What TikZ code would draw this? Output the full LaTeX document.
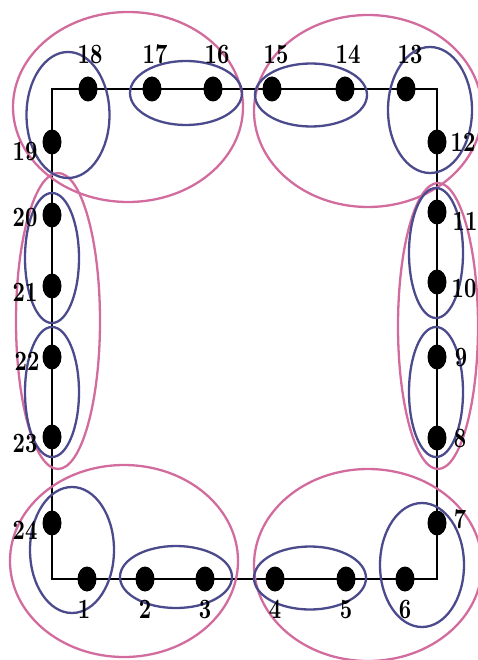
\documentclass[tikz,border=0pt]{standalone}
\usetikzlibrary{shapes.geometric}
\usepackage{graphicx}
\definecolor{grpblue}{HTML}{4B4A8C}
\definecolor{grppink}{HTML}{D36C9E}
\font\lblfont=cmbx10 at 21.5pt
\newcommand\lbtxt[1]{\scalebox{1}[1.3]{#1}}
\begin{document}
\begin{tikzpicture}[x=1pt,y=-1pt,
  dot/.style={ellipse,fill=black,minimum width=19pt,minimum height=25pt,inner sep=0pt},
  lbl/.style={font=\lblfont,inner sep=0pt},
  bluegrp/.style={draw=grpblue,line width=2.3pt},
  pinkgrp/.style={draw=grppink,line width=2.3pt}]
\useasboundingbox (0,0) rectangle (477,660);
% frame
\coordinate (c1) at (52,89);
\coordinate (c2) at (437,89);
\coordinate (c3) at (437,579);
\coordinate (c4) at (52,579);
\draw[line width=2.5pt] (c1) -- (c2) -- (c3) -- (c4) -- cycle;
% pink groups
\draw[pinkgrp] (128,107) ellipse [x radius=115, y radius=95];
\draw[pinkgrp] (368,111) ellipse [x radius=114, y radius=96];
\draw[pinkgrp] (58,321) ellipse [x radius=42, y radius=148];
\draw[pinkgrp] (438,326) ellipse [x radius=40, y radius=143];
\draw[pinkgrp] (124,561) ellipse [x radius=114, y radius=96];
\draw[pinkgrp] (368,565) ellipse [x radius=114, y radius=96];
% blue groups
\draw[bluegrp] (68,115) ellipse [x radius=41.5, y radius=63];
\draw[bluegrp] (186,93) ellipse [x radius=56, y radius=32];
\draw[bluegrp] (311,95) ellipse [x radius=56, y radius=31.5];
\draw[bluegrp] (430,110) ellipse [x radius=42, y radius=63];
\draw[bluegrp] (436,253) ellipse [x radius=27, y radius=65];
\draw[bluegrp] (436,392) ellipse [x radius=27, y radius=65];
\draw[bluegrp] (422,565) ellipse [x radius=42, y radius=62];
\draw[bluegrp] (310,578) ellipse [x radius=56, y radius=31.5];
\draw[bluegrp] (176,577) ellipse [x radius=56, y radius=31];
\draw[bluegrp] (72,550) ellipse [x radius=42, y radius=63];
\draw[bluegrp] (52,258) ellipse [x radius=27, y radius=65];
\draw[bluegrp] (52,392) ellipse [x radius=27, y radius=65];
% dots
\node[dot] (n1) at (87,579) {};
\node[dot] (n2) at (145,579) {};
\node[dot] (n3) at (205,579) {};
\node[dot] (n4) at (275,579) {};
\node[dot] (n5) at (346,579) {};
\node[dot] (n6) at (405,579) {};
\node[dot] (n7) at (437,523) {};
\node[dot] (n8) at (437,438) {};
\node[dot] (n9) at (437,357) {};
\node[dot] (n10) at (437,282) {};
\node[dot] (n11) at (437,212) {};
\node[dot] (n12) at (437,142) {};
\node[dot] (n13) at (406,89) {};
\node[dot] (n14) at (345,89) {};
\node[dot] (n15) at (272,89) {};
\node[dot] (n16) at (213,89) {};
\node[dot] (n17) at (152,89) {};
\node[dot] (n18) at (88,89) {};
\node[dot] (n19) at (52,142) {};
\node[dot] (n20) at (52,215) {};
\node[dot] (n21) at (52,286) {};
\node[dot] (n22) at (52,357) {};
\node[dot] (n23) at (52,437) {};
\node[dot] (n24) at (52,523) {};
% labels
\node[lbl] (l1) at (84,609) {\lbtxt{1}};
\node[lbl] (l2) at (145,609) {\lbtxt{2}};
\node[lbl] (l3) at (205,609) {\lbtxt{3}};
\node[lbl] (l4) at (275,609) {\lbtxt{4}};
\node[lbl] (l5) at (346,609) {\lbtxt{5}};
\node[lbl] (l6) at (405,609) {\lbtxt{6}};
\node[lbl] (l7) at (460,519) {\lbtxt{7}};
\node[lbl] (l8) at (460,438) {\lbtxt{8}};
\node[lbl] (l9) at (461,357) {\lbtxt{9}};
\node[lbl] (l10) at (464,288) {\lbtxt{10}};
\node[lbl] (l11) at (465,221) {\lbtxt{11}};
\node[lbl] (l12) at (463,142) {\lbtxt{12}};
\node[lbl] (l13) at (410,54) {\lbtxt{13}};
\node[lbl] (l14) at (348,54) {\lbtxt{14}};
\node[lbl] (l15) at (276,54) {\lbtxt{15}};
\node[lbl] (l16) at (217,54) {\lbtxt{16}};
\node[lbl] (l17) at (155,54) {\lbtxt{17}};
\node[lbl] (l18) at (90,54) {\lbtxt{18}};
\node[lbl] (l19) at (25,151) {\lbtxt{19}};
\node[lbl] (l20) at (25,217) {\lbtxt{20}};
\node[lbl] (l21) at (25,292) {\lbtxt{21}};
\node[lbl] (l22) at (27,361) {\lbtxt{22}};
\node[lbl] (l23) at (25,443) {\lbtxt{23}};
\node[lbl] (l24) at (25,530) {\lbtxt{24}};
\end{tikzpicture}
\end{document}
